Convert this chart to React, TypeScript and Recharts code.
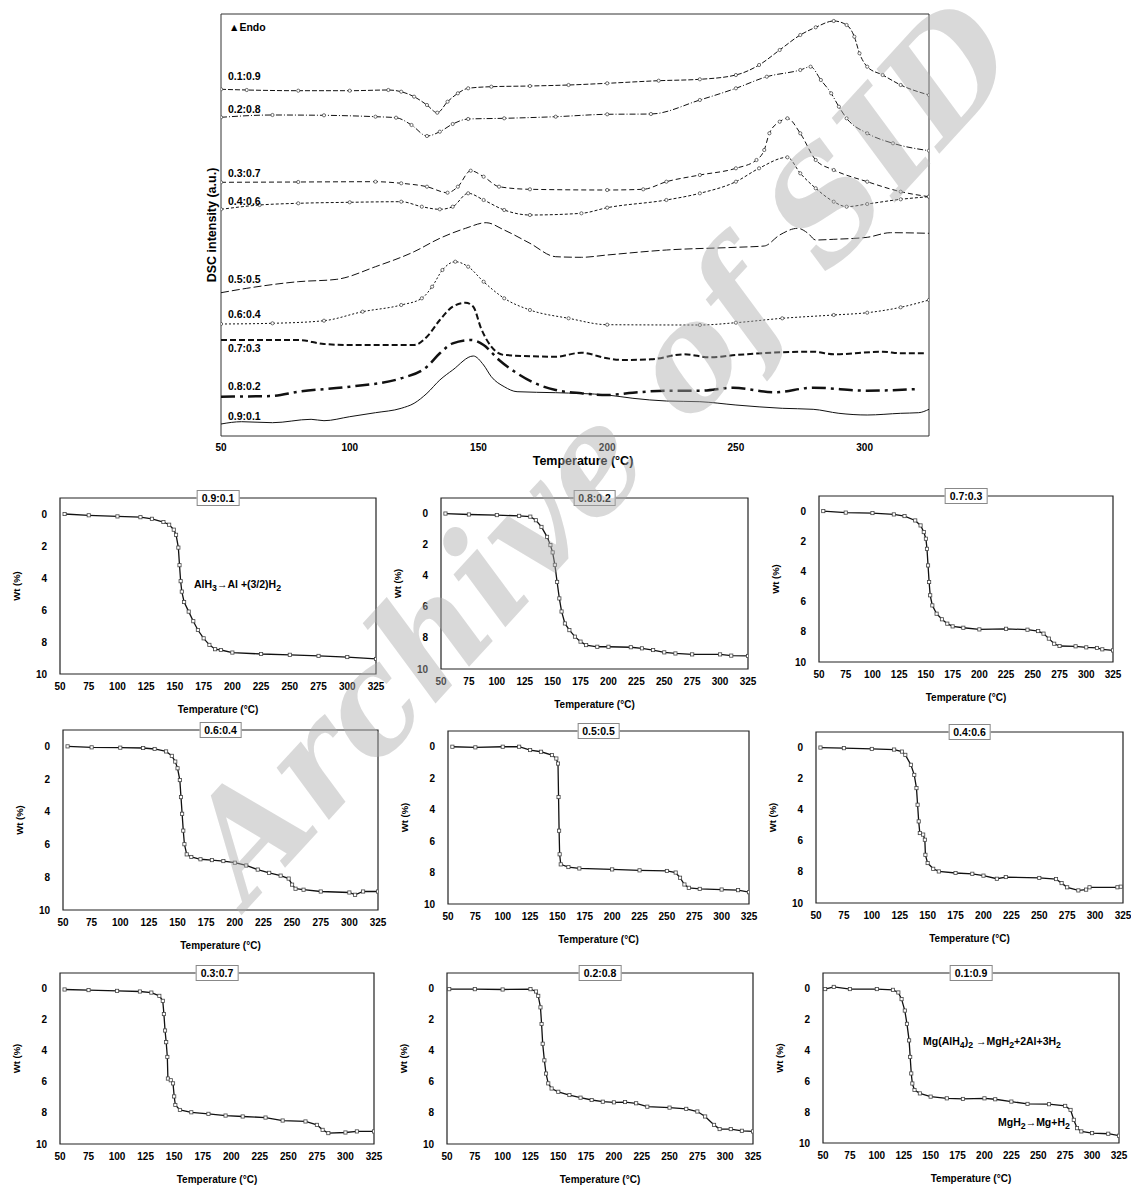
import React from "react";
import { LineChart, Line, XAxis, YAxis, ReferenceArea } from "recharts";

const FONT = '"Liberation Sans", Arial, sans-serif';

// ---------- DSC curves (temperature °C, intensity a.u.) ----------
const dsc01 = [[50,346.7],[60,346],[80,345.3],[100,345.3],[115,346],[120,344.3],[125,339.3],[130,331],[134,323.3],[138,334.3],[142,342.7],[146,347.7],[155,349.3],[170,350],[185,351],[200,352.7],[220,355.3],[236,356.7],[250,361],[259,371],[267,386],[275,401],[281,408.7],[288,415],[293,411],[296,399.3],[298,382.7],[301,369.3],[307,361],[314,351],[325,341]];
const dsc02 = [[50,318.7],[70,321],[90,320.7],[110,319.3],[118,318.3],[124,311],[130,300],[135,304.3],[140,312],[146,317],[160,317.7],[180,319.3],[200,321.7],[217,322],[236,336],[250,347.7],[262,359.3],[275,366],[279,369.3],[283,356],[287,342.7],[290,329.3],[293,317.7],[301,302.7],[311,292.7],[325,285.3]];
const dsc03 = [[50,253.7],[80,254],[110,254.3],[120,252.7],[130,249.3],[138,243.3],[142,249.3],[147,265.3],[152,259.3],[158,249.3],[170,246.7],[200,246],[214,246.7],[223,254.3],[236,261],[250,267.7],[258,276],[261,286],[263,302.7],[267,314.3],[270,317.7],[275,302.7],[281,276],[288,266],[301,254.3],[314,244.3],[325,239.3]];
const dsc04 = [[50,226.7],[65,231],[80,232.7],[100,233.7],[120,234.3],[128,229.3],[135,226.7],[140,229.3],[146,242.7],[152,236],[160,226],[170,221],[190,222.7],[200,228.3],[223,236],[236,242.7],[250,254.3],[259,267.7],[270,278.7],[275,262.7],[281,247.7],[288,234.3],[293,229.3],[301,232],[314,236.7],[325,239.3]];
const dsc05 = [[50,143.3],[60,147.7],[80,154.3],[95,156.7],[110,169.3],[125,184.3],[135,197.7],[145,207.7],[153,213.3],[160,206],[170,192.7],[180,179.3],[190,178.7],[200,181],[223,186],[250,188.7],[261,190],[267,201],[274,207.7],[278,202.7],[281,196],[288,196.7],[301,198.7],[310,203.3],[325,202.7]];
const dsc06 = [[50,112],[70,112.7],[90,115.3],[105,124.3],[120,131],[128,137.7],[132,149.3],[136,166],[141,174.3],[146,169.3],[152,154.3],[160,137.7],[170,126],[185,117.7],[200,111.3],[236,111],[250,113.3],[268,117.7],[288,121],[301,123.3],[314,128.7],[325,136]];
const dsc07 = [[50,96],[80,96],[90,92],[100,91],[125,91],[130,99.3],[135,116],[140,129.3],[145,133.3],[148,129.3],[151,107.7],[155,89.3],[160,81],[180,79.3],[190,83.3],[200,77.7],[206,76],[217,76.7],[230,81.7],[240,78.7],[250,81],[280,84.3],[288,81.7],[307,84.3],[314,82.7],[323,82.7]];
const dsc08 = [[50,39.3],[70,40],[80,44.3],[100,49.3],[120,57.7],[130,69.3],[135,82.7],[140,92.7],[147,96],[152,91],[158,76],[165,62.7],[172,52.7],[180,46],[190,42.7],[200,41],[210,43.3],[223,45.3],[236,45.3],[249,48.3],[265,43.7],[280,48.3],[301,45.3],[321,47]];
const dsc09 = [[50,12],[58,14.3],[70,13.3],[85,16.7],[90,15.3],[100,19.3],[110,23.3],[120,27.7],[125,32.7],[130,42.7],[135,56],[140,66],[148,80],[152,71],[155,59.3],[160,49.3],[165,44.3],[180,43.3],[200,41],[210,37.7],[223,35],[236,34.3],[250,31],[268,27.7],[280,26.7],[290,22.7],[301,21],[314,22.7],[321,23.3],[325,26.7]];

const dscTicks = [50, 100, 150, 200, 250, 300];
const dscNames = ["0.1:0.9", "0.2:0.8", "0.3:0.7", "0.4:0.6", "0.5:0.5", "0.6:0.4", "0.7:0.3", "0.8:0.2", "0.9:0.1"];

// ---------- TGA curves (temperature °C, weight loss %) ----------
const tga91 = [[54,0],[75,0.08],[100,0.15],[120,0.2],[130,0.3],[140,0.5],[145,0.67],[149,0.98],[151,1.3],[153,2.1],[154,3.2],[155,4.2],[156,4.85],[158,5.5],[162,6.1],[166,6.7],[170,7.25],[175,7.77],[180,8.18],[185,8.45],[190,8.5],[200,8.66],[225,8.75],[250,8.8],[275,8.87],[300,8.94],[325,9.06]];
const tga82 = [[54,0],[75,0.06],[100,0.1],[120,0.15],[130,0.2],[135,0.43],[140,0.86],[145,1.5],[148,2.03],[150,2.5],[152,3.3],[154,4.4],[156,5.46],[158,6.3],[161,7.07],[165,7.5],[170,7.92],[175,8.24],[180,8.46],[190,8.57],[200,8.57],[220,8.6],[230,8.67],[240,8.78],[250,8.93],[260,9],[275,9.06],[300,9.06],[310,9.14],[325,9.16]];
const tga73 = [[54,0],[75,0.1],[100,0.13],[120,0.22],[130,0.33],[140,0.62],[145,0.95],[148,1.39],[150,1.83],[151,2.5],[152,3.6],[153,4.7],[154,5.58],[156,6.25],[160,6.8],[165,7.17],[170,7.46],[175,7.64],[185,7.73],[200,7.84],[225,7.8],[245,7.86],[255,7.95],[260,8.12],[265,8.45],[270,8.79],[275,8.94],[290,8.96],[300,9.03],[310,9.07],[315,9.16],[325,9.23]];
const tga64 = [[54,0],[75,0.06],[100,0.08],[120,0.1],[130,0.16],[140,0.31],[145,0.58],[148,0.93],[150,1.34],[152,2.06],[153,3.1],[154,4.12],[155,5.15],[156,5.98],[158,6.6],[162,6.76],[170,6.9],[180,6.95],[190,7.01],[200,7.11],[210,7.28],[220,7.53],[230,7.73],[240,7.9],[247,8.08],[250,8.45],[253,8.7],[260,8.76],[275,8.87],[300,8.93],[305,9.07],[312,8.87],[325,8.87]];
const tga55 = [[54,0],[75,0.04],[100,0],[115,0],[125,0.21],[135,0.32],[145,0.53],[149,0.75],[150.5,1.07],[151,3.2],[151.5,5.34],[152,6.84],[153,7.48],[160,7.65],[170,7.74],[200,7.8],[225,7.86],[250,7.9],[258,8],[262,8.33],[266,8.76],[270,8.97],[280,9.04],[300,9.08],[315,9.12],[325,9.25]];
const tga46 = [[54,0],[75,0.04],[100,0.09],[120,0.13],[127,0.26],[130,0.47],[135,1.11],[138,1.76],[140,2.61],[141,3.68],[142,4.75],[143,5.5],[146,5.6],[147.5,5.93],[148,6.9],[150,7.43],[155,7.8],[160,7.97],[175,8.07],[190,8.12],[200,8.24],[212,8.44],[220,8.33],[250,8.39],[265,8.46],[270,8.72],[275,8.99],[285,9.19],[292,9.14],[295,8.99],[320,8.99],[323,8.95]];
const tga37 = [[54,0.06],[75,0.1],[100,0.15],[120,0.19],[130,0.26],[137,0.47],[140,0.79],[141,1.64],[142,2.7],[143,3.45],[144,4.4],[144.5,5.79],[147,5.9],[149,6.1],[150,6.94],[151,7.49],[155,7.81],[165,7.96],[180,8.06],[195,8.17],[210,8.23],[230,8.3],[245,8.49],[265,8.55],[275,8.77],[280,9.09],[285,9.3],[300,9.26],[310,9.19],[325,9.19]];
const tga28 = [[52,0.04],[75,0.04],[100,0.06],[125,0.04],[130,0.19],[132,0.47],[134,1.21],[135,2.28],[136,3.55],[137.5,4.62],[139,5.47],[141,6.1],[144,6.43],[150,6.64],[160,6.85],[170,7.02],[180,7.17],[190,7.28],[200,7.32],[210,7.3],[220,7.38],[230,7.6],[250,7.66],[265,7.74],[275,7.91],[282,8.23],[290,8.77],[295,9.04],[305,9.04],[315,9.15],[325,9.19]];
const tga19 = [[52,0.04],[60,-0.1],[75,0.04],[100,0.04],[115,0.09],[120,0.26],[123,0.69],[126,1.43],[128,2.29],[130,3.36],[131,4.43],[132,5.5],[133,6.15],[135,6.57],[140,6.79],[150,7],[165,7.11],[180,7.15],[200,7.11],[210,7.17],[225,7.32],[240,7.47],[260,7.49],[275,7.6],[280,7.86],[283,8.5],[286,9.04],[290,9.25],[300,9.36],[315,9.4],[325,9.53]];

const tgaXTicks = [50, 75, 100, 125, 150, 175, 200, 225, 250, 275, 300, 325];
const tgaYTicks = [0, 2, 4, 6, 8, 10];

const toPts = (arr: number[][]) => arr.map(([t, v]) => ({ t, v }));

const dscSeries = [
  { name: dscNames[0], data: dsc01, dash: "5 2", width: 1, marker: true, labelY: 76 },
  { name: dscNames[1], data: dsc02, dash: "6 2 1 2", width: 1, marker: true, labelY: 109 },
  { name: dscNames[2], data: dsc03, dash: "5 3", width: 1, marker: true, labelY: 173 },
  { name: dscNames[3], data: dsc04, dash: "3 2", width: 1, marker: true, labelY: 201 },
  { name: dscNames[4], data: dsc05, dash: "8 3", width: 1, marker: false, labelY: 279 },
  { name: dscNames[5], data: dsc06, dash: "2 2", width: 1, marker: true, labelY: 314 },
  { name: dscNames[6], data: dsc07, dash: "6 3", width: 2, marker: false, labelY: 348 },
  { name: dscNames[7], data: dsc08, dash: "14 5 3 5", width: 2.5, marker: false, labelY: 386 },
  { name: dscNames[8], data: dsc09, dash: undefined, width: 1, marker: false, labelY: 416 },
];

const tgaPanels = [
  { title: "0.9:0.1", data: tga91, box: { left: 60, top: 498, w: 316, h: 176 } },
  { title: "0.8:0.2", data: tga82, box: { left: 441, top: 498, w: 307, h: 171 } },
  { title: "0.7:0.3", data: tga73, box: { left: 819, top: 496, w: 294, h: 166 } },
  { title: "0.6:0.4", data: tga64, box: { left: 63, top: 730, w: 315, h: 180 } },
  { title: "0.5:0.5", data: tga55, box: { left: 448, top: 731, w: 301, h: 173 } },
  { title: "0.4:0.6", data: tga46, box: { left: 816, top: 732, w: 307, h: 171 } },
  { title: "0.3:0.7", data: tga37, box: { left: 60, top: 973, w: 314, h: 171 } },
  { title: "0.2:0.8", data: tga28, box: { left: 447, top: 973, w: 306, h: 171 } },
  { title: "0.1:0.9", data: tga19, box: { left: 823, top: 973, w: 296, h: 170 } },
];

const tickStyle = { fontFamily: FONT, fontSize: 10, fontWeight: 700, fill: "#000" };

const circleDot = (p: any) => (
  <circle key={p.index} cx={p.cx} cy={p.cy} r={1.6} fill="#fff" stroke="#333" strokeWidth={0.7} />
);
const squareDot = (p: any) => (
  <rect key={p.index} x={p.cx - 1.6} y={p.cy - 1.6} width={3.2} height={3.2} fill="#fff" stroke="#444" strokeWidth={0.8} />
);

const textStyle: React.CSSProperties = {
  position: "absolute",
  fontFamily: FONT,
  fontWeight: 700,
  fontSize: 10.5,
  color: "#000",
  whiteSpace: "nowrap",
  lineHeight: "12px",
};

const DscChart = () => (
  <div style={{ position: "absolute", left: 171, top: 0 }}>
    <LineChart width={768} height={480} margin={{ top: 14, right: 10, left: 0, bottom: 0 }}>
      <XAxis
        type="number"
        dataKey="t"
        domain={[50, 325]}
        ticks={dscTicks}
        allowDataOverflow
        axisLine={false}
        tickLine={false}
        tickSize={0}
        tickMargin={8}
        height={44}
        tick={tickStyle}
        label={{ value: "Temperature (°C)", position: "center", dx: 8, dy: 3, style: { fontFamily: FONT, fontSize: 12.5, fontWeight: 700, fill: "#000" } }}
      />
      <YAxis
        type="number"
        domain={[0, 422]}
        allowDataOverflow
        tick={false}
        axisLine={false}
        tickLine={false}
        width={50}
        label={{ value: "DSC intensity (a.u.)", angle: -90, position: "center", dx: 16, style: { fontFamily: FONT, fontSize: 12.5, fontWeight: 700, fill: "#000" } }}
      />
      <ReferenceArea x1={50} x2={325} y1={0} y2={422} fill="none" stroke="#333" strokeWidth={1} ifOverflow="visible" />
      {dscSeries.map((s) => (
        <Line
          key={s.name}
          data={toPts(s.data)}
          dataKey="v"
          type="monotone"
          stroke="#111"
          strokeWidth={s.width}
          strokeDasharray={s.dash}
          dot={s.marker ? circleDot : false}
          activeDot={false}
          isAnimationActive={false}
        />
      ))}
    </LineChart>
  </div>
);

const TgaPanel = ({ panel }: { panel: (typeof tgaPanels)[number] }) => {
  const { box } = panel;
  return (
    <div style={{ position: "absolute", left: box.left - 50, top: box.top - 10 }}>
      <LineChart width={box.w + 60} height={box.h + 55} margin={{ top: 10, right: 10, left: 0, bottom: 0 }}>
        <XAxis
          type="number"
          dataKey="t"
          domain={[50, 325]}
          ticks={tgaXTicks}
          allowDataOverflow
          axisLine={false}
          tickLine={false}
          tickSize={0}
          tickMargin={9}
          height={45}
          interval={0}
          tick={tickStyle}
          label={{ value: "Temperature (°C)", position: "center", dy: 13, style: { fontFamily: FONT, fontSize: 10, fontWeight: 700, fill: "#000" } }}
        />
        <YAxis
          type="number"
          domain={[-1, 10]}
          ticks={tgaYTicks}
          reversed
          allowDataOverflow
          axisLine={false}
          tickLine={false}
          tickSize={0}
          tickMargin={13}
          width={50}
          interval={0}
          tick={tickStyle}
          label={{ value: "Wt (%)", angle: -90, position: "center", dx: -18, style: { fontFamily: FONT, fontSize: 9.5, fontWeight: 700, fill: "#000" } }}
        />
        <ReferenceArea x1={50} x2={325} y1={-1} y2={10} fill="none" stroke="#222" strokeWidth={1.2} ifOverflow="visible" />
        <Line
          data={toPts(panel.data)}
          dataKey="v"
          type="linear"
          stroke="#111"
          strokeWidth={1.3}
          dot={squareDot}
          activeDot={false}
          isAnimationActive={false}
        />
      </LineChart>
      <div
        style={{
          ...textStyle,
          left: 50 + box.w / 2,
          top: 10,
          transform: "translate(-50%, -50%)",
          background: "#fff",
          border: "1px solid #888",
          padding: "1px 4px",
        }}
      >
        {panel.title}
      </div>
    </div>
  );
};

export default function App() {
  return (
    <div style={{ position: "absolute", left: 0, top: 0, width: 1131, height: 1188, overflow: "hidden", background: "#fff" }}>
      <DscChart />
      <div style={{ ...textStyle, left: 229, top: 21 }}>▲Endo</div>
      {dscSeries.map((s) => (
        <div key={s.name} style={{ ...textStyle, left: 228, top: s.labelY - 6 }}>
          {s.name}
        </div>
      ))}
      {tgaPanels.map((p) => (
        <TgaPanel key={p.title} panel={p} />
      ))}
      <div style={{ ...textStyle, left: 194, top: 578 }}>
        AlH<sub>3</sub>→Al +(3/2)H<sub>2</sub>
      </div>
      <div style={{ ...textStyle, left: 923, top: 1035 }}>
        Mg(AlH<sub>4</sub>)<sub>2</sub> →MgH<sub>2</sub>+2Al+3H<sub>2</sub>
      </div>
      <div style={{ ...textStyle, left: 998, top: 1116 }}>
        MgH<sub>2</sub>→Mg+H<sub>2</sub>
      </div>
      <div
        style={{
          position: "absolute",
          left: 600,
          top: 450,
          transform: "translate(-50%, -50%) rotate(-47.5deg)",
          fontFamily: '"DejaVu Serif", serif',
          fontStyle: "italic",
          fontWeight: 700,
          fontSize: 142,
          color: "rgba(170,170,170,0.45)",
          whiteSpace: "nowrap",
          pointerEvents: "none",
        }}
      >
        Archive of SID
      </div>
    </div>
  );
}
